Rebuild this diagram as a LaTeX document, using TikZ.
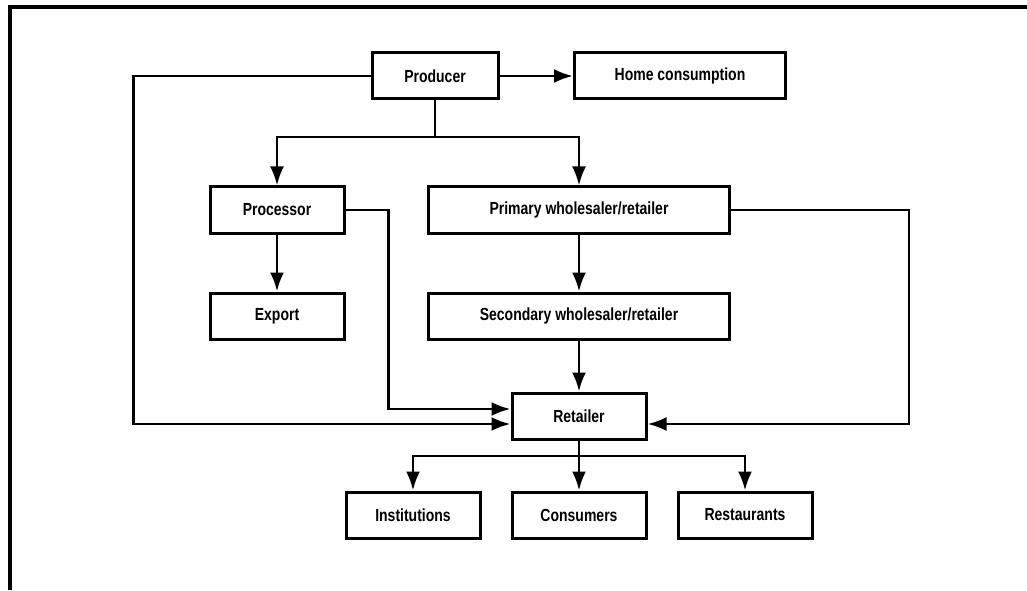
\documentclass[tikz,border=0pt]{standalone}
\usepackage{fontspec}
\setmainfont{Liberation Sans}[FakeStretch=0.8]
\usetikzlibrary{positioning,arrows.meta}
\begin{document}
\begin{tikzpicture}[
    x=1pt, y=1pt,
    node distance=100pt,
    >={Latex[length=19pt,width=14pt]},
    block/.style={rectangle, draw, line width=3pt, minimum height=46pt,
        minimum width=134pt, font=\bfseries\fontsize{17.5}{20}\selectfont},
    link/.style={line width=2.8pt}
]
\useasboundingbox (0,0) rectangle (1027,590);
% Frame
\draw [line width=3.5pt] (10,0) -- (10,583) -- (1027,583);

% Blocks
\node [block, minimum width=126pt] (producer) at (435,514) {Producer};
\node [block, minimum width=211pt, right of=producer, node distance=245pt] (home) {Home consumption};
\node [block] (retailer) at (579,174) {Retailer};
\node [block, minimum width=301pt, above of=retailer] (secondary) {Secondary wholesaler/retailer};
\node [block, minimum width=301pt, above of=secondary, node distance=106pt] (primary) {Primary wholesaler/retailer};
\node [block, left of=primary, node distance=302pt] (processor) {Processor};
\node [block, below of=processor, node distance=106pt] (export) {Export};
\node [block, below of=retailer, node distance=99pt] (consumers) {Consumers};
\node [block, left of=consumers, node distance=166pt] (institutions) {Institutions};
\node [block, right of=consumers, node distance=166pt] (restaurants) {Restaurants};
\coordinate (fork) at (435,453);
\coordinate (branch) at (579,134);

% Connections
\draw [link, ->] (producer) -- (home);
\draw [link] (producer) -- (fork);
\draw [link, ->] (fork) -| (processor);
\draw [link, ->] (fork) -| (primary);
\draw [link, ->] (processor) -- (export);
\draw [link, ->] (primary) -- (secondary);
\draw [link, ->] (secondary) -- (retailer);
\draw [link, ->] (processor.east) -- ++(43,0) |- ([yshift=7pt]retailer.west);
\draw [link, ->] (producer.west) -- ++(-237,0) |- ([yshift=-8pt]retailer.west);
\draw [link, ->] (primary.east) -- ++(178,0) |- ([yshift=-8pt]retailer.east);
\draw [link, ->] (retailer) -- (consumers);
\draw [link, ->] (branch) -| (institutions);
\draw [link, ->] (branch) -| (restaurants);
\end{tikzpicture}
\end{document}
